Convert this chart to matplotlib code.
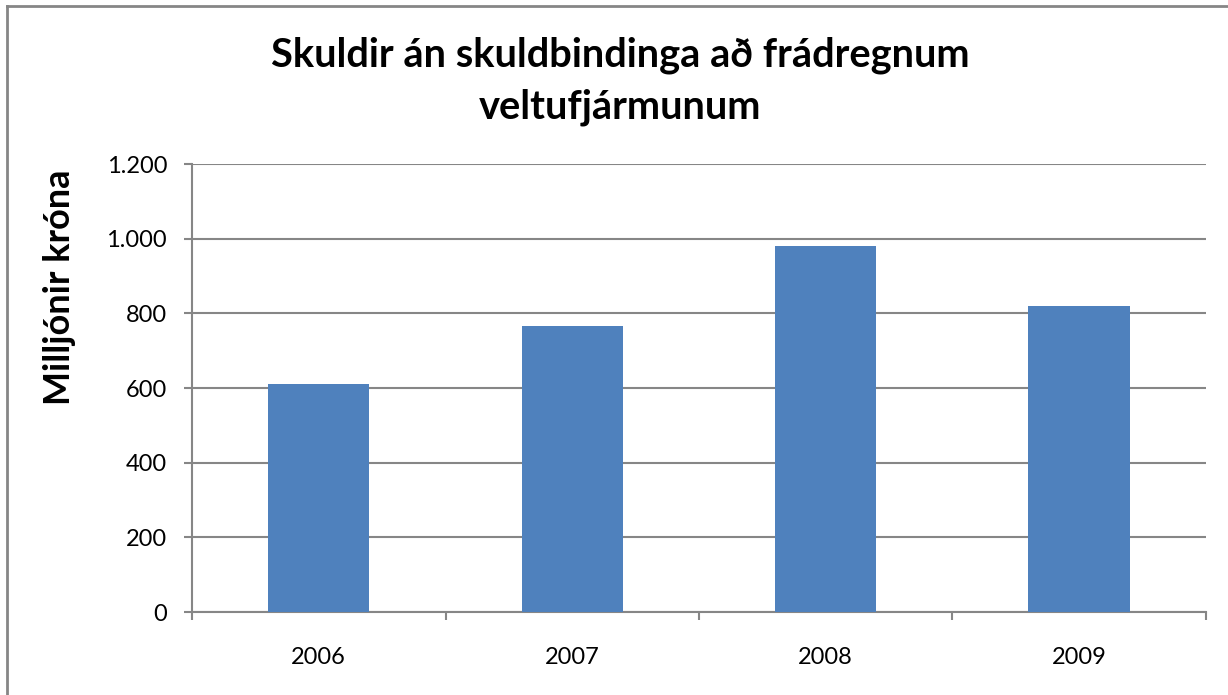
from matplotlib import pyplot as plt
from matplotlib.lines import Line2D
from matplotlib.ticker import FuncFormatter

years = ['2006', '2007', '2008', '2009']
values = [611, 765, 981, 820]
yticks = [0, 200, 400, 600, 800, 1000, 1200]

plt.rcParams['font.family'] = ['Lato', 'DejaVu Sans']

fig = plt.figure(figsize=(12.28, 6.95), dpi=100)
ax = fig.add_axes([0.1564, 0.1194, 0.8256, 0.6446])

x = list(range(len(years)))
ax.bar(x, values, width=0.4, color='#4F81BD', zorder=3)

ax.set_xlim(-0.5, len(years) - 0.5)
ax.set_ylim(0, 1200)
ax.set_yticks(yticks)
ax.yaxis.set_major_formatter(FuncFormatter(lambda v, p: '{:,.0f}'.format(v).replace(',', '.')))
ax.grid(axis='y', color='#868686', lw=1.5, zorder=0)

ax.set_xticks(x)
ax.set_xticklabels(years)
ax.set_xticks([i - 0.5 for i in range(len(years) + 1)], minor=True)
ax.tick_params(axis='x', which='major', length=0, pad=25, labelsize=17)
ax.tick_params(axis='x', which='minor', length=6, width=1.5, color='#868686')
ax.tick_params(axis='y', length=6, width=1.5, color='#868686', labelsize=17, pad=12)

for s in ['top', 'right']:
    ax.spines[s].set_visible(False)
for s in ['left', 'bottom']:
    ax.spines[s].set_color('#868686')
    ax.spines[s].set_linewidth(1.5)

ax.set_ylabel('Milljónir króna', fontsize=26, fontweight='bold')
ax.yaxis.set_label_coords(-0.114, 0.725)
fig.text(0.505, 0.883, 'Skuldir án skuldbindinga að frádregnum\nveltufjármunum',
         ha='center', va='center', fontsize=28.7, fontweight='bold', linespacing=1.5)

# outer chart border (top and left only visible)
fig.add_artist(Line2D([0.0057, 0.0057], [0, 0.991], transform=fig.transFigure, color='#868686', lw=2))
fig.add_artist(Line2D([0.0057, 1], [0.991, 0.991], transform=fig.transFigure, color='#868686', lw=2))

fig.savefig('out.png', dpi=100)
